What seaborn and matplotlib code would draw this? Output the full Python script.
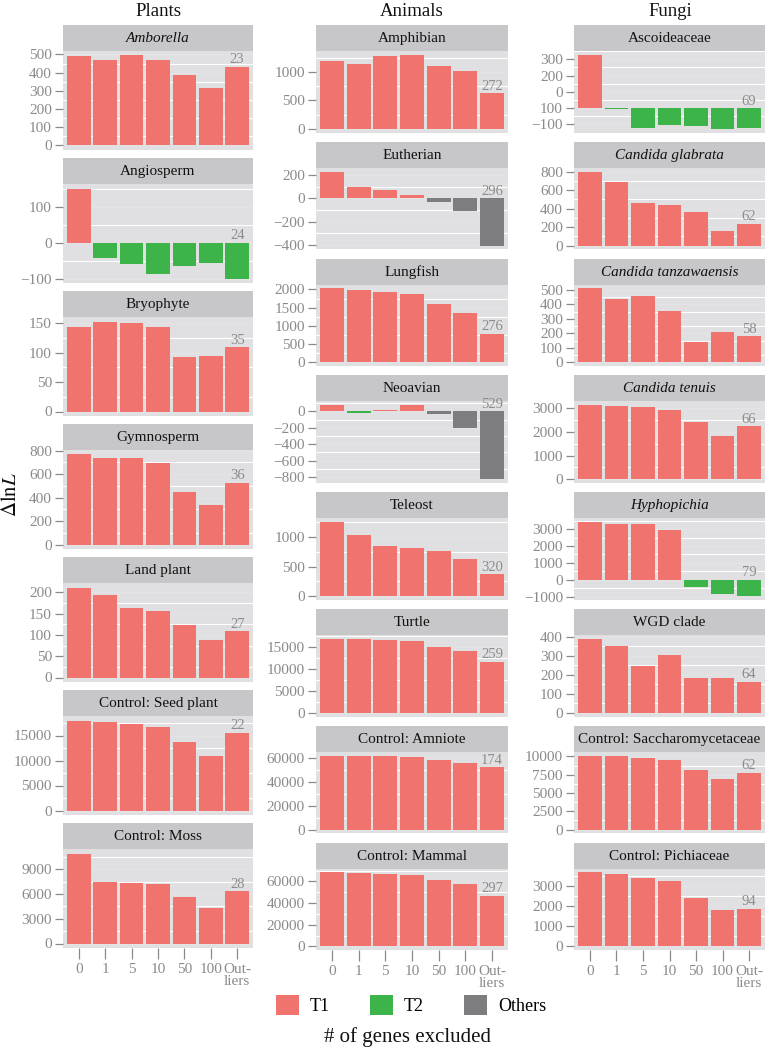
import numpy as np
import pandas as pd
import matplotlib
matplotlib.use("Agg")
import matplotlib.pyplot as plt
import seaborn as sns
from matplotlib.patches import Rectangle, Patch
from matplotlib.ticker import MultipleLocator

plt.rcParams['font.family'] = ['Liberation Serif', 'DejaVu Serif']
plt.rcParams['mathtext.fontset'] = 'stix'
plt.rcParams['axes.unicode_minus'] = True

# ---------------- data ----------------
x_labels = ['0', '1', '5', '10', '50', '100', 'Out-\nliers']
type_order = ['T1', 'T2', 'Others']
palette = {'T1': '#F1736E', 'T2': '#3CB44A', 'Others': '#7D7D80'}

plants_names = ['Amborella', 'Angiosperm', 'Bryophyte', 'Gymnosperm', 'Land plant',
                'Control: Seed plant', 'Control: Moss']
plants_italic = [True, False, False, False, False, False, False]
plants_values = [
    [491, 469, 494, 471, 389, 316, 432],
    [150, -44, -61, -87, -64, -57, -100],
    [143, 153, 150, 144, 92, 94, 109],
    [766, 740, 740, 695, 449, 339, 525],
    [211, 193, 163, 155, 123, 87, 108],
    [18000, 17750, 17215, 16680, 13665, 10850, 15535],
    [10920, 7520, 7360, 7200, 5600, 4360, 6360],
]
plants_types = [
    ['T1'] * 7,
    ['T1', 'T2', 'T2', 'T2', 'T2', 'T2', 'T2'],
    ['T1'] * 7, ['T1'] * 7, ['T1'] * 7, ['T1'] * 7, ['T1'] * 7,
]
plants_counts = [23, 24, 35, 36, 27, 22, 28]
plants_steps = [100, 100, 50, 200, 50, 5000, 3000]

animals_names = ['Amphibian', 'Eutherian', 'Lungfish', 'Neoavian', 'Teleost', 'Turtle',
                 'Control: Amniote', 'Control: Mammal']
animals_italic = [False] * 8
animals_values = [
    [1198, 1145, 1291, 1308, 1105, 1029, 628],
    [231, 99, 73, 31, -31, -110, -406],
    [2030, 1973, 1927, 1873, 1609, 1345, 791],
    [76, -16, 12, 76, -36, -208, -828],
    [1256, 1040, 841, 818, 761, 625, 369],
    [16790, 16640, 16490, 16270, 15000, 13955, 11570],
    [62200, 61930, 61650, 61100, 58340, 55850, 52530],
    [68360, 68060, 67160, 66270, 61490, 57610, 46570],
]
animals_types = [
    ['T1'] * 7,
    ['T1', 'T1', 'T1', 'T1', 'Others', 'Others', 'Others'],
    ['T1'] * 7,
    ['T1', 'T2', 'T1', 'T1', 'Others', 'Others', 'Others'],
    ['T1'] * 7, ['T1'] * 7, ['T1'] * 7, ['T1'] * 7,
]
animals_counts = [272, 296, 276, 529, 320, 259, 174, 297]
animals_steps = [500, 200, 500, 200, 500, 5000, 20000, 20000]

fungi_names = ['Ascoideaceae', 'Candida glabrata', 'Candida tanzawaensis', 'Candida tenuis',
               'Hyphopichia', 'WGD clade', 'Control: Saccharomycetaceae', 'Control: Pichiaceae']
fungi_italic = [False, True, True, True, True, False, False, False]
fungi_values = [
    [328, -8, -123, -103, -111, -127, -121],
    [800, 690, 464, 439, 365, 156, 234],
    [510, 435, 458, 357, 138, 212, 180],
    [3139, 3097, 3055, 2944, 2417, 1833, 2250],
    [3423, 3327, 3308, 2962, -410, -870, -960],
    [391, 352, 248, 303, 184, 186, 164],
    [10135, 10045, 9775, 9550, 8150, 6890, 7790],
    [3687, 3605, 3426, 3263, 2431, 1811, 1876],
]
fungi_types = [
    ['T1', 'T2', 'T2', 'T2', 'T2', 'T2', 'T2'],
    ['T1'] * 7, ['T1'] * 7, ['T1'] * 7,
    ['T1', 'T1', 'T1', 'T1', 'T2', 'T2', 'T2'],
    ['T1'] * 7, ['T1'] * 7, ['T1'] * 7,
]
fungi_counts = [69, 62, 58, 66, 79, 64, 62, 94]
fungi_steps = [100, 200, 100, 1000, 1000, 100, 2500, 1000]
# tick labels of the Ascoideaceae panel as printed in the figure
ascoid_ticks = [-100, 0, 100, 200, 300]
ascoid_ticklabels = ['\u2212100', '100', '0', '200', '300']

# ---------------- layout ----------------
W, H = 766, 1050
fig = plt.figure(figsize=(W / 100, H / 100), dpi=100)
fig.patch.set_facecolor('white')

def fx(px):
    return px / W

def fy(py):
    return 1 - py / H

PANEL_BG = '#E0E0E2'
STRIP_BG = '#C7C7CA'
TICK_COL = '#8A8A8A'
STRIP_H = 26

def draw_panel(left, right, strip_top, panel_h, name, italic, vals, types, count, step,
               bottom_row, custom_ticks=None):
    ptop = strip_top + STRIP_H
    ax = fig.add_axes([fx(left), fy(ptop + panel_h), (right - left) / W, panel_h / H])
    df = pd.DataFrame({'excluded': x_labels, 'dlnL': vals, 'tree': types})
    sns.barplot(data=df, x='excluded', y='dlnL', hue='tree', order=x_labels,
                hue_order=type_order, palette=palette, dodge=False, width=0.9,
                saturation=1, errorbar=None, legend=False, ax=ax, linewidth=0, zorder=3)
    ax.set_facecolor(PANEL_BG)
    for s in ax.spines.values():
        s.set_visible(False)
    lo = min(0, min(vals))
    hi = max(0, max(vals))
    pad = 0.05 * (hi - lo)
    ax.set_ylim(lo - pad, hi + pad)
    ax.set_xlim(-0.6, 6.6)
    if custom_ticks is None:
        ticks = np.arange(np.ceil((lo - pad) / step) * step, hi + pad + 1e-9, step)
        ax.set_yticks(ticks)
        ax.set_yticklabels([f'{int(t)}'.replace('-', '\u2212') for t in ticks])
    else:
        ax.set_yticks(custom_ticks[0])
        ax.set_yticklabels(custom_ticks[1])
    ax.yaxis.set_minor_locator(MultipleLocator(step / 2))
    ax.grid(which='minor', axis='y', color='white', linewidth=0.8, zorder=0)
    ax.grid(which='major', axis='y', color='#E6E6E8', linewidth=0.5, zorder=0)
    ax.set_axisbelow(True)
    ax.tick_params(axis='y', which='major', length=6, width=0.9, color=TICK_COL,
                   labelcolor=TICK_COL, labelsize=11, pad=2)
    ax.tick_params(axis='y', which='minor', length=0)
    if bottom_row:
        ax.tick_params(axis='x', length=8, width=0.9, color=TICK_COL, labelcolor=TICK_COL,
                       labelsize=11, pad=3)
        for t in ax.get_xticklabels():
            t.set_linespacing(0.85)
    else:
        ax.tick_params(axis='x', length=0, labelbottom=False)
    ax.set_xlabel('')
    ax.set_ylabel('')
    ax.annotate(str(count), xy=(6, max(vals[6], 0)), xytext=(0, 2.5),
                textcoords='offset points', ha='center', va='baseline',
                color='#8C8C8C', fontsize=10.5, annotation_clip=False, clip_on=False,
                zorder=6)
    # strip (drawn underneath the axes so texts stay visible)
    fig.patches.append(Rectangle((fx(left), fy(ptop)), (right - left) / W, STRIP_H / H,
                                 transform=fig.transFigure, facecolor=STRIP_BG,
                                 edgecolor='none', zorder=-1))
    fig.text(fx((left + right) / 2), fy(strip_top + STRIP_H / 2 + 0.5), name,
             ha='center', va='center', fontsize=11, color='#111111',
             style='italic' if italic else 'normal')
    return ax

columns = [
    (63, 253, 133.0, 99, plants_names, plants_italic, plants_values, plants_types,
     plants_counts, plants_steps),
    (316, 508, 116.8, 81.5, animals_names, animals_italic, animals_values, animals_types,
     animals_counts, animals_steps),
    (574, 765, 116.8, 81.5, fungi_names, fungi_italic, fungi_values, fungi_types,
     fungi_counts, fungi_steps),
]

for (left, right, pitch, ph, names, ital, values, types, counts, steps) in columns:
    n = len(names)
    for i in range(n):
        custom = None
        if names[i] == 'Ascoideaceae':
            custom = (ascoid_ticks, ascoid_ticklabels)
        draw_panel(left, right, 25 + pitch * i, ph, names[i], ital[i], values[i], types[i],
                   counts[i], steps[i], i == n - 1, custom)

# column titles
for title, cx in [('Plants', 158), ('Animals', 412), ('Fungi', 670)]:
    fig.text(fx(cx), fy(12), title, ha='center', va='center', fontsize=13.5, color='#111111')

# y label
fig.text(fx(12), fy(495), r'$\Delta\mathrm{ln}L$', rotation=90, ha='center', va='center',
         fontsize=15, color='#111111')

# legend
handles = [Patch(facecolor=palette[t], edgecolor='none', label=t) for t in type_order]
fig.legend(handles=handles, loc='center', bbox_to_anchor=(fx(411), fy(1005)), ncol=3,
           frameon=False, fontsize=13, handlelength=1.3, handleheight=1.4,
           handletextpad=0.6, columnspacing=2.2)

fig.text(fx(408), fy(1037), '# of genes excluded', ha='center', va='center', fontsize=15,
         color='#111111')

fig.savefig('out.png', dpi=100, facecolor='white')
